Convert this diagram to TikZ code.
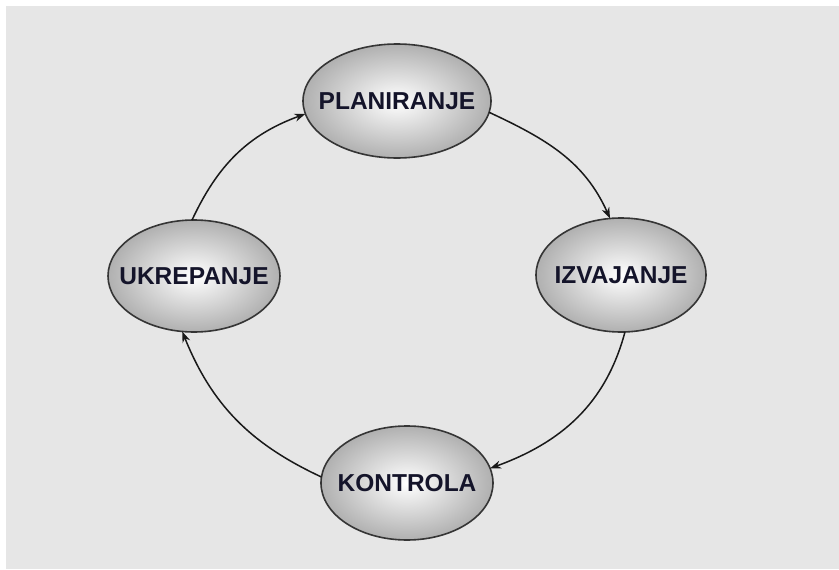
\documentclass[tikz,border=0pt]{standalone}
\usepackage{fontspec}
\setmainfont{Liberation Sans}
\usetikzlibrary{shapes.geometric,arrows.meta}
\definecolor{bggray}{HTML}{E6E6E6}
\definecolor{edgegray}{HTML}{353535}
\definecolor{outergray}{HTML}{B0B0B0}
\definecolor{txt}{HTML}{14142A}
\tikzset{
  phase/.style={ellipse, draw=edgegray, line width=1.6pt, inner xsep=-30pt, inner ysep=0pt, outer sep=0pt,
    inner color=white, outer color=outergray,
    font=\fontsize{24.5}{28}\selectfont\bfseries, text=txt},
  flow/.style={draw=black!90, line width=1.5pt, -{Stealth[length=11pt,width=8pt]}}
}
\begin{document}
\begin{tikzpicture}[x=1pt,y=-1pt]
\useasboundingbox (0,0) rectangle (839,570);
\fill[bggray] (6,6) rectangle (839,569);
\node[phase, minimum width=188pt, minimum height=114pt] (plan) at (397,101) {PLANIRANJE};
\node[phase, minimum width=170pt, minimum height=114pt] (izv) at (621,275) {IZVAJANJE};
\node[phase, minimum width=172pt, minimum height=114pt] (kon) at (407,483) {KONTROLA};
\node[phase, minimum width=172pt, minimum height=112pt] (ukr) at (194,276) {UKREPANJE};
\draw[flow] (plan.-7) to[out=-25, in=114] (izv.101);
\draw[flow] (izv.-86) to[out=-105, in=20] (kon.10);
\draw[flow] (kon.176) to[out=155, in=-68] (ukr.258);
\draw[flow] (ukr.92) to[out=65, in=200] (plan.188);
\end{tikzpicture}
\end{document}
